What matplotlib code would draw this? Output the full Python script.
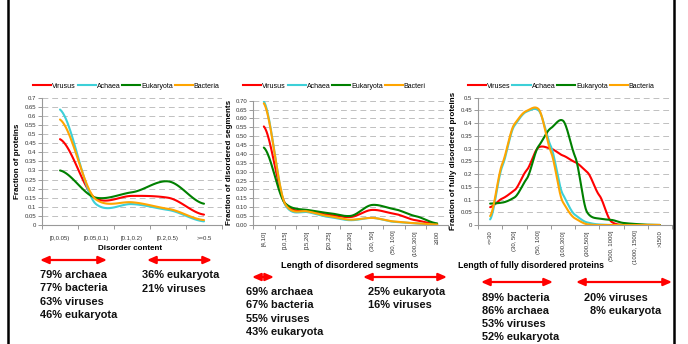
import numpy as np
import matplotlib
matplotlib.use('Agg')
import matplotlib.pyplot as plt
from matplotlib.lines import Line2D
from matplotlib.patches import FancyArrowPatch

# panel 1 - disorder content
content_cats = ['[0,0.05)', '[0.05,0.1)', '[0.1,0.2)', '[0.2,0.5)', '>=0.5']
content_virus = [0.472, 0.145, 0.160, 0.150, 0.057]
content_archaea = [0.635, 0.115, 0.115, 0.083, 0.020]
content_eukaryota = [0.300, 0.150, 0.180, 0.240, 0.117]
content_bacteria = [0.580, 0.140, 0.125, 0.089, 0.027]

# panel 2 - length of disordered segments
segment_cats = ['[4,10]', '[10,15]', '[15,20]', '[20,25]', '[25,30]',
                '(30, 50]', '(50, 100]', '(100,300]', '\u2265300']
segment_virus = [0.555, 0.118, 0.076, 0.058, 0.045, 0.085, 0.064, 0.027, 0.004]
segment_archaea = [0.696, 0.110, 0.073, 0.045, 0.027, 0.040, 0.018, 0.009, 0.002]
segment_eukaryota = [0.436, 0.120, 0.085, 0.067, 0.051, 0.113, 0.090, 0.050, 0.009]
segment_bacteria = [0.685, 0.115, 0.077, 0.050, 0.030, 0.040, 0.020, 0.010, 0.003]

# panel 3 - length of fully disordered proteins (values every half category)
protein_cats = ['<=30', '(30, 50]', '(50, 100]', '(100,300]', '(300,500]',
                '(500, 1000]', '(1000, 1500]', '>1500']
protein_virus = [0.07, 0.104, 0.136, 0.214, 0.305, 0.30, 0.273, 0.247,
                 0.208, 0.117, 0.013, 0.0, 0.0, 0.0, 0.0]
protein_archaea = [0.022, 0.23, 0.39, 0.445, 0.45, 0.31, 0.12, 0.04,
                   0.01, 0.002, 0.0, 0.0, 0.0, 0.0, 0.0]
protein_eukaryota = [0.084, 0.088, 0.108, 0.18, 0.31, 0.38, 0.41, 0.27,
                     0.05, 0.025, 0.02, 0.008, 0.004, 0.001, 0.0]
protein_bacteria = [0.035, 0.24, 0.396, 0.448, 0.455, 0.29, 0.09, 0.026,
                    0.003, 0.0, 0.0, 0.0, 0.0, 0.0, 0.0]

colors = {'virus': '#ff0000', 'archaea': '#3dd0d8', 'eukaryota': '#008000', 'bacteria': '#ffa500'}

W, H = 688, 344


def box(l, r, t, b):
    return [l / W, 1 - b / H, (r - l) / W, (b - t) / H]


def smooth(x, y, n=24, tension=0.6):
    # cardinal spline, a bit like excel's smoothed lines
    x = np.asarray(x, float)
    y = np.asarray(y, float)
    px = np.concatenate([[2 * x[0] - x[1]], x, [2 * x[-1] - x[-2]]])
    py = np.concatenate([[y[0]], y, [y[-1]]])
    xs, ys = [], []
    t = np.linspace(0, 1, n, endpoint=False)
    h00 = 2 * t ** 3 - 3 * t ** 2 + 1
    h10 = t ** 3 - 2 * t ** 2 + t
    h01 = -2 * t ** 3 + 3 * t ** 2
    h11 = t ** 3 - t ** 2
    for i in range(1, len(px) - 2):
        m1y = tension * (py[i + 1] - py[i - 1]) / 2
        m2y = tension * (py[i + 2] - py[i]) / 2
        m1x = (px[i + 1] - px[i - 1]) / 2
        m2x = (px[i + 2] - px[i]) / 2
        xs.extend(h00 * px[i] + h10 * m1x + h01 * px[i + 1] + h11 * m2x)
        ys.extend(h00 * py[i] + h10 * m1y + h01 * py[i + 1] + h11 * m2y)
    xs.append(x[-1])
    ys.append(y[-1])
    return np.array(xs), np.clip(np.array(ys), 0, None)


plt.rcParams['font.family'] = ['Liberation Sans', 'DejaVu Sans']
fig = plt.figure(figsize=(6.88, 3.44), dpi=100)
fig.patch.set_facecolor('white')

small = 4.3


def style_axis(ax, ncat, ymax, ystep, fmt):
    ax.set_xlim(-0.5, ncat - 0.5)
    ax.set_ylim(0, ymax)
    yt = np.arange(0, ymax + 1e-9, ystep)
    ax.set_yticks(yt)
    ax.set_yticklabels([fmt(v) for v in yt], fontsize=small, color='#333333')
    ax.yaxis.grid(True, color='#c0c0c0', linestyle=(0, (6, 4)), linewidth=0.7)
    ax.set_axisbelow(True)
    for s in ['top', 'right']:
        ax.spines[s].set_visible(False)
    for s in ['left', 'bottom']:
        ax.spines[s].set_color('#999999')
        ax.spines[s].set_linewidth(0.8)
    ax.set_xticks(np.arange(-0.5, ncat), minor=True)
    ax.tick_params(axis='x', which='minor', length=3, color='#999999', width=0.7)
    ax.tick_params(axis='x', which='major', length=0, pad=4)
    ax.tick_params(axis='y', length=3, color='#999999', width=0.7, pad=1)


def draw_lines(ax, x, series, names):
    handles = []
    for key, vals, name in zip(['virus', 'archaea', 'eukaryota', 'bacteria'], series, names):
        sx, sy = smooth(x, vals)
        ax.plot(sx, sy, color=colors[key], lw=1.5, solid_capstyle='round')
        handles.append(Line2D([], [], color=colors[key], lw=1.5, label=name))
    return handles


def legend(handles, x0):
    fig.legend(handles=handles, loc='center left', bbox_to_anchor=(x0 / W, 1 - 86 / H),
               ncol=4, frameon=False, fontsize=5, handlelength=2.6, handletextpad=0.15,
               columnspacing=0.25, borderaxespad=0, borderpad=0)


# panel 1
ax1 = fig.add_axes(box(42, 222, 97.7, 225))
style_axis(ax1, 5, 0.7, 0.05, lambda v: f'{v:.2f}'.rstrip('0').rstrip('.') if v else '0')
h = draw_lines(ax1, np.arange(5), [content_virus, content_archaea, content_eukaryota, content_bacteria],
               ['Virusus', 'Achaea', 'Eukaryota', 'Bacteria'])
ax1.set_xticks(np.arange(5))
ax1.set_xticklabels(content_cats, fontsize=small, color='#333333')
ax1.tick_params(axis='x', which='major', pad=8)
ax1.set_ylabel('Fraction of proteins', fontsize=5.8, fontweight='bold', labelpad=3)
legend(h, 33)

# panel 2
ax2 = fig.add_axes(box(253, 448, 100.7, 225))
style_axis(ax2, 9, 0.70, 0.05, lambda v: f'{v:.2f}')
h = draw_lines(ax2, np.arange(9), [segment_virus, segment_archaea, segment_eukaryota, segment_bacteria],
               ['Virusus', 'Achaea', 'Eukaryota', 'Bacteri'])
ax2.set_xticks(np.arange(9))
ax2.set_xticklabels(segment_cats, fontsize=small, color='#333333', rotation=90)
ax2.set_ylabel('Fraction of disordered segments', fontsize=5.8, fontweight='bold', labelpad=2)
legend(h, 243)

# panel 3
ax3 = fig.add_axes(box(478, 672, 97.7, 225))
style_axis(ax3, 8, 0.5, 0.05, lambda v: f'{v:.2f}'.rstrip('0').rstrip('.') if v else '0')
h = draw_lines(ax3, np.arange(15) / 2, [protein_virus, protein_archaea, protein_eukaryota, protein_bacteria],
               ['Viruses', 'Achaea', 'Eukaryota', 'Bacteria'])
ax3.set_xticks(np.arange(8))
ax3.set_xticklabels(protein_cats, fontsize=small, color='#333333', rotation=90, va='top')
ax3.set_ylabel('Fraction of fully disordered proteins', fontsize=5.8, fontweight='bold', labelpad=3)
legend(h, 468)

# x labels
fig.text(130 / W, 1 - 248 / H, 'Disorder content', fontsize=5.8, fontweight='bold', ha='center', va='center')
fig.text(350 / W, 1 - 265 / H, 'Length of disordered segments', fontsize=6.6, fontweight='bold', ha='center', va='center')
fig.text(531 / W, 1 - 266 / H, 'Length of fully disordered proteins', fontsize=6.3, fontweight='bold', ha='center', va='center')

# red double arrows
arrows = [(40, 107, 260), (147, 212, 260), (252, 274, 277), (363, 447, 277), (481, 553, 282), (576, 672, 282)]
for x0, x1, y in arrows:
    a = FancyArrowPatch((x0 / W, 1 - y / H), (x1 / W, 1 - y / H), transform=fig.transFigure,
                        arrowstyle='<|-|>,head_length=5,head_width=2.2', color='#ff0000', lw=1.6,
                        shrinkA=0, shrinkB=0, mutation_scale=1)
    fig.add_artist(a)

# annotations
notes = [
    (40, 275, ['79% archaea', '77% bacteria', '63% viruses', '46% eukaryota'], 13.4),
    (142, 275, ['36% eukaryota', '21% viruses'], 14),
    (246, 292, ['69% archaea', '67% bacteria', '55% viruses', '43% eukaryota'], 13.4),
    (368, 292, ['25% eukaryota', '16% viruses'], 13),
    (482, 298, ['89% bacteria', '86% archaea', '53% viruses', '52% eukaryota'], 13),
    (584, 298, ['20% viruses'], 13),
    (590, 311, ['8% eukaryota'], 13),
]
for x, y, lines, step in notes:
    for i, t in enumerate(lines):
        fig.text(x / W, 1 - (y + i * step) / H, t, fontsize=7.9, fontweight='bold',
                 ha='left', va='center', color='#111111')

# page border lines
for x in (8, 674):
    fig.add_artist(Line2D([x / W, x / W], [0, 1], transform=fig.transFigure, color='black', lw=1.8))

fig.savefig('out.png', dpi=100)
